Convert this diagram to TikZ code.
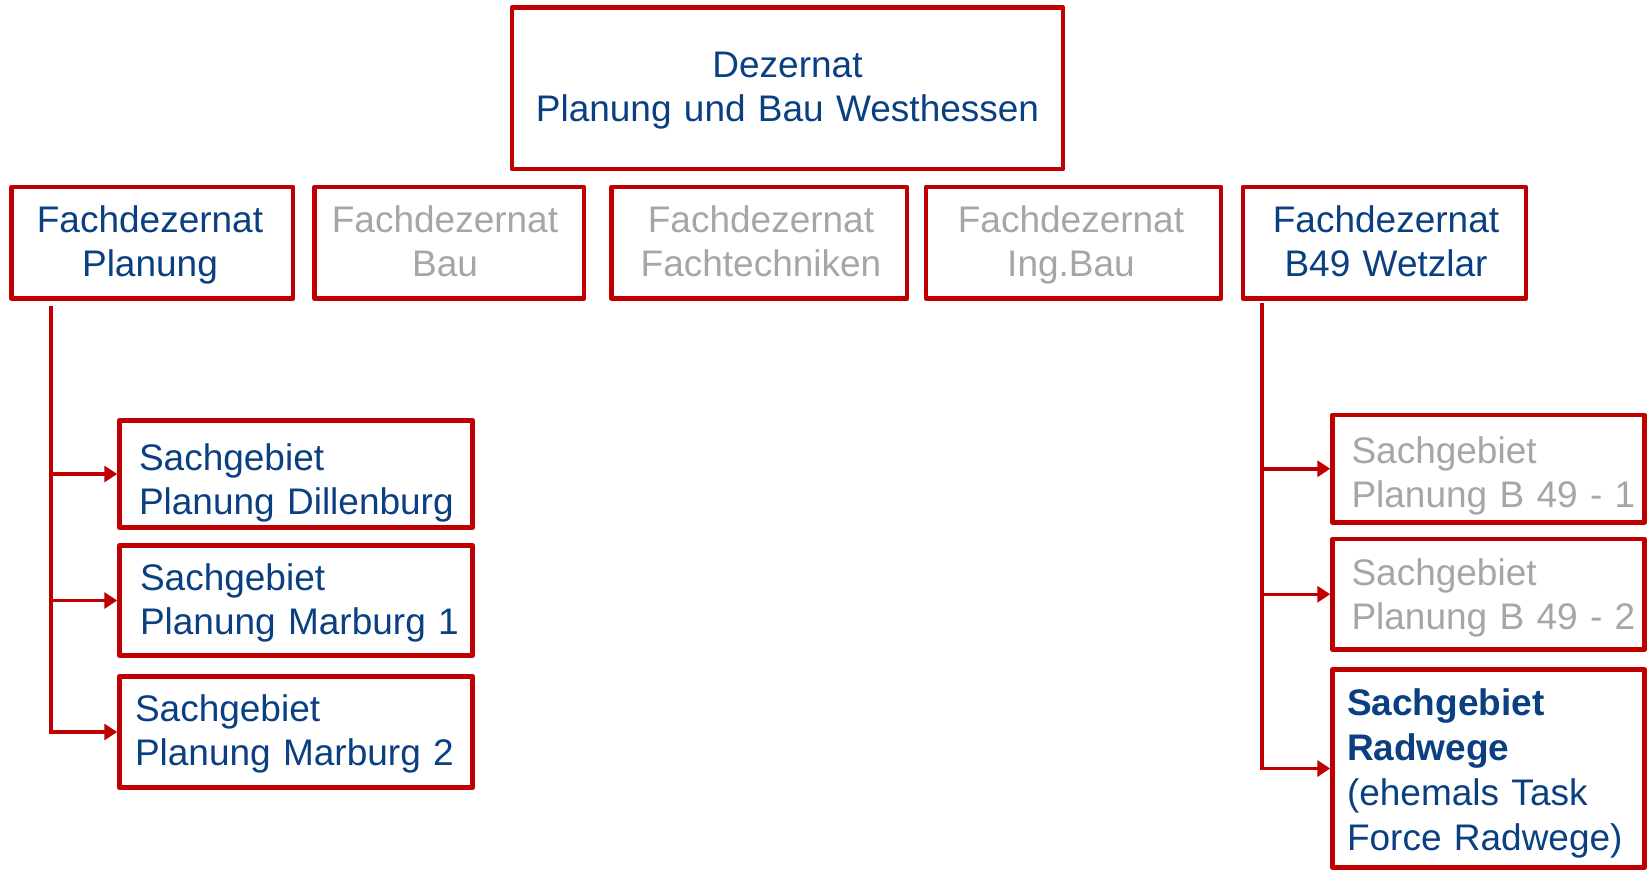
\documentclass[tikz,border=0pt]{standalone}
\usepackage{fontspec}
\setmainfont{Liberation Sans}
\usetikzlibrary{arrows.meta}
\definecolor{dbred}{HTML}{C00000}
\definecolor{dbblue}{HTML}{0A3F82}
\definecolor{dbgray}{HTML}{A6A6A6}
\begin{document}
\begin{tikzpicture}[x=1pt,y=-1pt,
  box/.style={draw=dbred, line width=4.5pt, line join=round, rectangle, inner sep=0pt, outer sep=0pt, anchor=north west},
  txt/.style={inner sep=0pt, outer sep=0pt, font=\fontsize{37}{44}\selectfont},
  blue/.style={txt, text=dbblue},
  grey/.style={txt, text=dbgray},
  ctr/.style={align=center, anchor=base},
  lft/.style={align=left, anchor=base west},
  conn/.style={draw=dbred, line width=3.5pt, -{Triangle[length=13pt,width=16pt]}, shorten >=2.25pt}
]
\useasboundingbox (0,0) rectangle (1649,872);

% top
\node[box, minimum width=551pt, minimum height=161.5pt] (dez) at (512,7.5) {};
\node[blue, ctr, text width=540pt] (dezt) at (787.5,78) {Dezernat\\Planung und Bau Westhessen};

% row 2
\node[box, minimum width=281.5pt, minimum height=111.5pt] (fp) at (11.5,187) {};
\node[blue, ctr, text width=270pt] (fpt) at (150,232) {Fachdezernat\\Planung};
\node[box, minimum width=269.5pt, minimum height=111.5pt] (fb) at (314.5,187) {};
\node[grey, ctr, text width=260pt] (fbt) at (445,232) {Fachdezernat\\Bau};
\node[box, minimum width=295.5pt, minimum height=111.5pt] (ff) at (611.5,187) {};
\node[grey, ctr, text width=285pt] (fft) at (761,232) {Fachdezernat\\Fachtechniken};
\node[box, minimum width=295pt, minimum height=111.5pt] (fi) at (926,187) {};
\node[grey, ctr, text width=285pt] (fit) at (1071,232) {Fachdezernat\\Ing.Bau};
\node[box, minimum width=283pt, minimum height=111.5pt] (fw) at (1243,187) {};
\node[blue, ctr, text width=270pt] (fwt) at (1386,232) {Fachdezernat\\B49 Wetzlar};

% left column
\node[box, minimum width=353pt, minimum height=107pt] (sd) at (119.5,420.5) {};
\node[blue, lft, text width=330pt] (sdt) at (139,470) {Sachgebiet\\Planung Dillenburg};
\node[box, minimum width=353pt, minimum height=110pt] (sm1) at (119.5,545.5) {};
\node[blue, lft, text width=330pt] (sm1t) at (140,590) {Sachgebiet\\Planung Marburg 1};
\node[box, minimum width=353pt, minimum height=111pt] (sm2) at (119.5,676.5) {};
\node[blue, lft, text width=330pt] (sm2t) at (135,721) {Sachgebiet\\Planung Marburg 2};

% right column
\node[box, minimum width=312pt, minimum height=107.5pt] (r1) at (1332.5,415) {};
\node[grey, lft, text width=290pt] (r1t) at (1351.5,463) {Sachgebiet\\Planung B 49 - 1};
\node[box, minimum width=312pt, minimum height=110.5pt] (r2) at (1332.5,539) {};
\node[grey, lft, text width=290pt] (r2t) at (1351.5,585) {Sachgebiet\\Planung B 49 - 2};
\node[box, minimum width=312pt, minimum height=198pt] (r3) at (1332.5,669.5) {};
\node[blue, lft, text width=295pt, font=\fontsize{37}{45}\selectfont] (r3t) at (1347,715) {\textbf{Sachgebiet}\\\textbf{Radwege}\\(ehemals Task\\Force Radwege)};

% connectors
\coordinate (lt) at (51,306);
\draw[conn] (lt) |- (sm2.west);
\draw[conn] (lt |- sd.west) -- (sd.west);
\draw[conn] (lt |- sm1.west) -- (sm1.west);
\coordinate (rt) at (1262,303);
\draw[conn] (rt) |- (r3.west);
\draw[conn] (rt |- r1.west) -- (r1.west);
\draw[conn] (rt |- r2.west) -- (r2.west);
\end{tikzpicture}
\end{document}
